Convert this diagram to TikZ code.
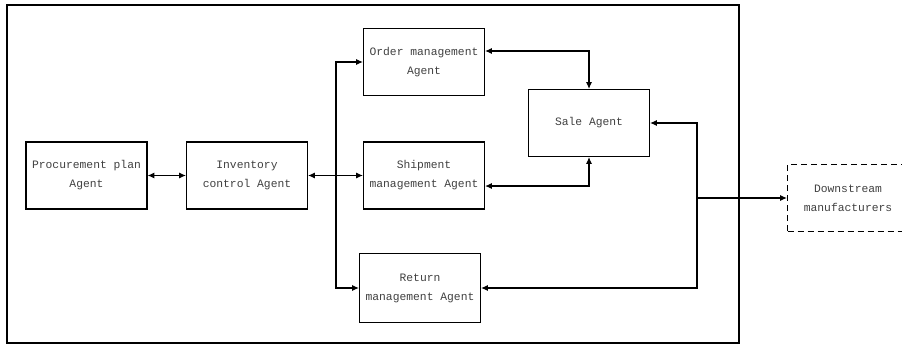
\documentclass[tikz,border=0pt]{standalone}
\usepackage{fontspec}
\usepackage{tikz}
\usetikzlibrary{calc,shapes,arrows.meta}
\newfontfamily\agentfont{Liberation Mono}

\begin{document}
\begin{tikzpicture}[x=0.75pt,y=-0.75pt,>={Latex[length=5pt,width=4.5pt]},
        agent/.style={draw,line width=0.9pt,minimum width=90.75pt,minimum height=50.25pt,
            inner sep=0pt,align=center,font=\agentfont\fontsize{8.5}{14.2}\selectfont,text=black!75},
        link/.style={line width=0.8pt}]
        \useasboundingbox (0,0) rectangle (902,345);
        \clip (0,0) rectangle (902,345);
        \draw[line width=0.8pt] (7,5) rectangle (739,343);
        % agents
        \node[agent] (proc) at (86.5,175.5) {Procurement plan\\Agent};
        \node[agent] (inv) at (247,175.5) {Inventory\\control Agent};
        \node[agent] (order) at (424,62) {Order management\\Agent};
        \node[agent] (ship) at (424,175.5) {Shipment\\management Agent};
        \node[agent,minimum height=51.75pt] (ret) at (420,288) {Return\\management Agent};
        \node[agent] (sale) at (589,123) {Sale Agent};
        \node[agent,dash pattern=on 4.5pt off 3pt] (down) at (848,198) {Downstream\\manufacturers};
        % connectors
        \coordinate (fork) at (336,175.5);
        \coordinate (bus) at (697,288);
        \draw[link,<->] (proc) -- (inv);
        \draw[link,<->] (inv) -- (ship);
        \draw[link,->] (fork) |- (order.west);
        \draw[link,->] (fork) |- (ret.west);
        \draw[link,<->] ([yshift=8.25pt]order.east) -| (sale.north);
        \draw[link,<->] ([yshift=-7.9pt]ship.east) -| (sale.south);
        \draw[link,<->] (sale.east) -| (bus) -- (ret.east);
        \draw[link,->] (bus |- down.west) -- (down.west);
    \end{tikzpicture}
\end{document}
